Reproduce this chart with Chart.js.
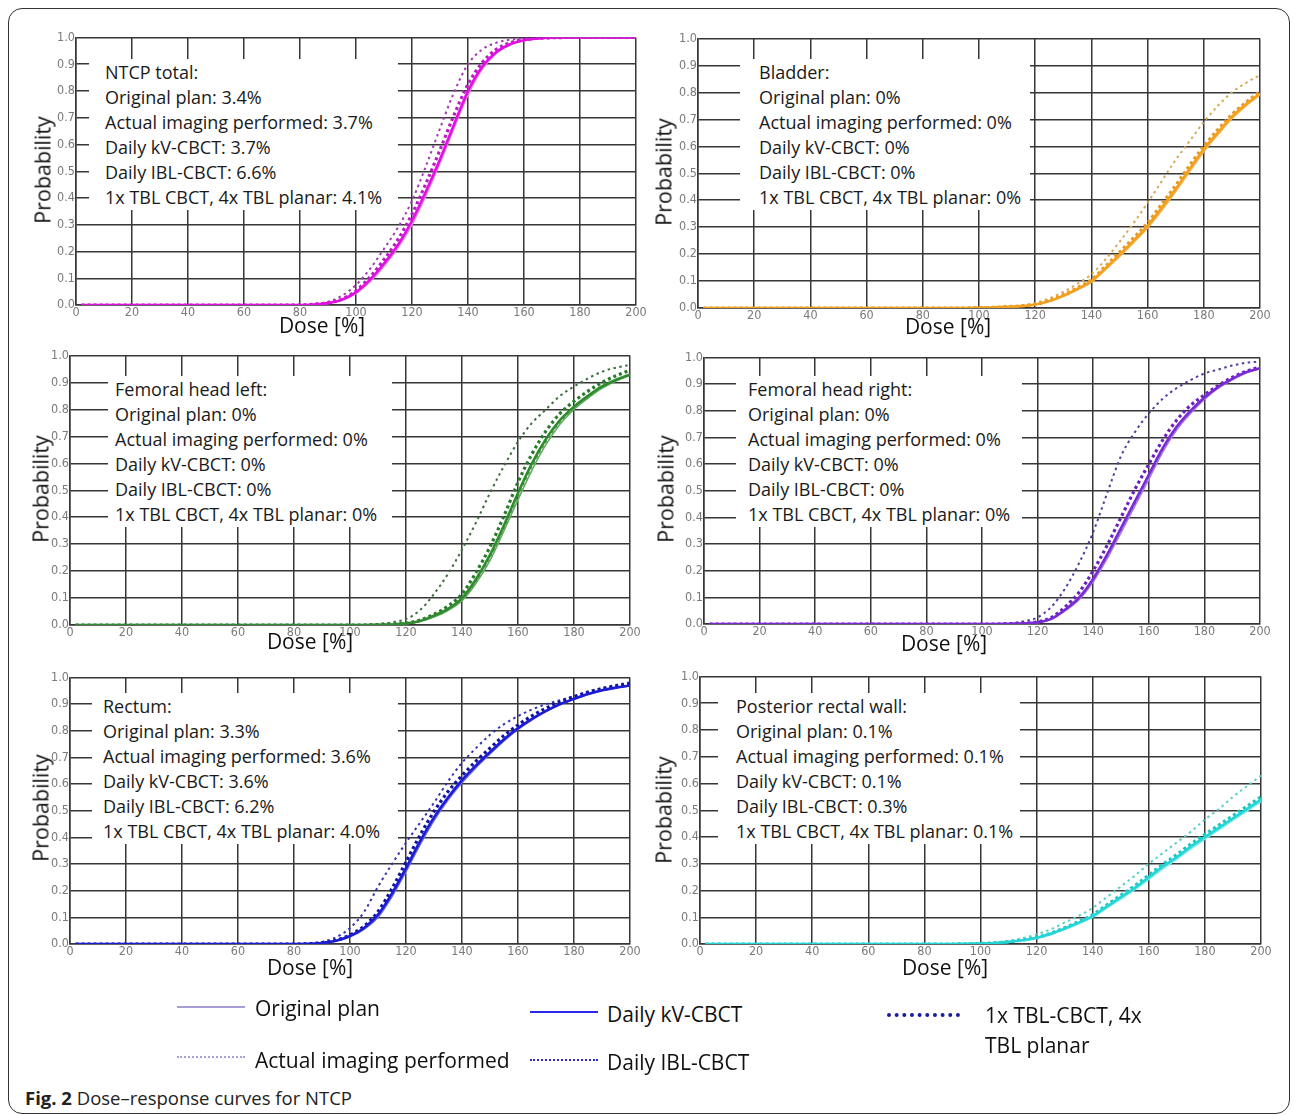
<!DOCTYPE html>
<html><head><meta charset="utf-8">
<script src="https://cdn.jsdelivr.net/npm/chart.js@4.4.1/dist/chart.umd.min.js"></script>
<style>
html,body{margin:0;padding:0;background:#fff;}
body{width:1295px;height:1115px;position:relative;overflow:hidden;font-family:'Open Sans','Noto Sans',sans-serif;color:#1a1a1a;}
#frame{position:absolute;left:8px;top:8px;width:1282px;height:1106px;border:1.5px solid #333;border-radius:14px;box-sizing:border-box;}
canvas{position:absolute;}
.box{position:absolute;background:#fff;font-size:18px;line-height:25px;color:#1a1a1a;white-space:nowrap;box-sizing:border-box;}
.ytitle{position:absolute;font-size:21.5px;color:#111;transform:translate(-50%,-50%) rotate(-90deg);white-space:nowrap;}
.xtitle{position:absolute;font-size:21px;color:#111;transform:translate(-50%,-50%);white-space:nowrap;}
.lg{position:absolute;font-size:21px;color:#111;white-space:nowrap;transform:translateY(-50%);}
.ls{position:absolute;height:0;}
#caption{position:absolute;left:25px;top:1097px;transform:translateY(-50%);font-size:18.5px;color:#222;white-space:nowrap;}
</style>
</head>
<body>
<div id="frame"></div>
<div id="root"></div>
<div class="ls" style="left:177px;top:1006px;width:68px;border-top:2px solid #a99bd6;"></div>
<div class="lg" style="left:255px;top:1008px;">Original plan</div>
<div class="ls" style="left:177px;top:1056px;width:68px;border-top:2px dotted #aaa0da;"></div>
<div class="lg" style="left:255px;top:1060px;">Actual imaging performed</div>
<div class="ls" style="left:530px;top:1011px;width:68px;border-top:2.5px solid #2a2ae6;"></div>
<div class="lg" style="left:607px;top:1014px;">Daily kV-CBCT</div>
<div class="ls" style="left:530px;top:1059px;width:68px;border-top:2.5px dotted #2b2bd0;"></div>
<div class="lg" style="left:607px;top:1062px;">Daily IBL-CBCT</div>
<div class="ls" style="left:887px;top:1013px;width:73px;border-top:4px dotted #1c1c9c;"></div>
<div class="lg" style="left:985px;top:1030px;line-height:30px;transform:translateY(-50%);">1x TBL-CBCT, 4x<br>TBL planar</div>
<div id="caption"><b>Fig. 2</b> Dose–response curves for NTCP</div>
<script>
// ---------- data ----------
const doses = [2,20,40,60,80,85,90,95,100,105,110,115,120,125,130,135,140,145,150,155,160,165,170,175,180,185,190,195,200];
const xTicks = [0,20,40,60,80,100,120,140,160,180,200];
const yTicks = [0,0.1,0.2,0.3,0.4,0.5,0.6,0.7,0.8,0.9,1.0];
const seriesNames = ['Original plan','Actual imaging performed','Daily kV-CBCT','Daily IBL-CBCT','1x TBL CBCT, 4x TBL planar'];
const organNames = ['NTCP total','Bladder','Femoral head left','Femoral head right','Rectum','Posterior rectal wall'];
const pctOriginal = ['3.4%','0%','0%','0%','3.3%','0.1%'];
const pctActual   = ['3.7%','0%','0%','0%','3.6%','0.1%'];
const pctKV       = ['3.7%','0%','0%','0%','3.6%','0.1%'];
const pctIBL      = ['6.6%','0%','0%','0%','6.2%','0.3%'];
const pctTBL      = ['4.1%','0%','0%','0%','4.0%','0.1%'];

const totalOriginal = [0,0,0,0,0,0.002,0.006,0.017,0.043,0.087,0.145,0.215,0.30,0.41,0.53,0.66,0.785,0.88,0.94,0.972,0.988,0.995,0.999,1,1,1,1,1,1];
const totalActual   = [0,0,0,0,0,0.002,0.007,0.019,0.047,0.093,0.153,0.223,0.312,0.422,0.542,0.672,0.797,0.888,0.944,0.974,0.99,0.996,0.999,1,1,1,1,1,1];
const totalKV       = [0,0,0,0,0,0.002,0.007,0.02,0.048,0.095,0.155,0.225,0.315,0.425,0.545,0.675,0.80,0.89,0.945,0.975,0.99,0.996,0.999,1,1,1,1,1,1];
const totalIBL      = [0,0,0,0,0.001,0.004,0.012,0.035,0.075,0.135,0.21,0.29,0.39,0.52,0.66,0.795,0.9,0.955,0.98,0.992,0.997,0.999,1,1,1,1,1,1,1];
const totalTBL      = [0,0,0,0,0,0.003,0.008,0.022,0.053,0.105,0.17,0.245,0.34,0.455,0.58,0.71,0.825,0.905,0.955,0.98,0.992,0.997,0.999,1,1,1,1,1,1];

const bladderOriginal = [0,0,0,0,0,0,0,0,0.001,0.002,0.004,0.007,0.012,0.024,0.043,0.067,0.095,0.142,0.19,0.242,0.297,0.362,0.432,0.507,0.58,0.643,0.702,0.75,0.79];
const bladderActual   = [0,0,0,0,0,0,0,0,0.001,0.002,0.004,0.007,0.013,0.025,0.045,0.07,0.099,0.146,0.196,0.248,0.303,0.37,0.44,0.515,0.588,0.65,0.708,0.755,0.795];
const bladderKV       = [0,0,0,0,0,0,0,0,0.001,0.002,0.004,0.007,0.013,0.026,0.046,0.071,0.10,0.148,0.198,0.25,0.305,0.372,0.442,0.517,0.59,0.652,0.71,0.756,0.796];
const bladderIBL      = [0,0,0,0,0,0,0,0.001,0.002,0.003,0.005,0.009,0.018,0.036,0.06,0.09,0.125,0.18,0.245,0.315,0.39,0.47,0.55,0.62,0.69,0.75,0.80,0.835,0.865];
const bladderTBL      = [0,0,0,0,0,0,0,0,0.001,0.002,0.005,0.008,0.014,0.028,0.049,0.075,0.105,0.155,0.207,0.26,0.316,0.385,0.455,0.53,0.60,0.662,0.718,0.763,0.803];

const femLOriginal = [0,0,0,0,0,0,0,0,0,0,0.001,0.002,0.005,0.013,0.03,0.054,0.09,0.155,0.24,0.35,0.465,0.575,0.67,0.745,0.80,0.842,0.878,0.905,0.926];
const femLActual   = [0,0,0,0,0,0,0,0,0,0,0.001,0.002,0.005,0.014,0.032,0.057,0.095,0.162,0.25,0.36,0.478,0.588,0.68,0.752,0.805,0.846,0.882,0.908,0.928];
const femLKV       = [0,0,0,0,0,0,0,0,0,0,0.001,0.002,0.006,0.015,0.035,0.06,0.10,0.17,0.26,0.37,0.49,0.60,0.69,0.76,0.81,0.85,0.885,0.91,0.93];
const femLIBL      = [0,0,0,0,0,0,0,0,0,0.001,0.004,0.01,0.022,0.055,0.115,0.19,0.28,0.38,0.49,0.59,0.68,0.75,0.80,0.85,0.885,0.915,0.94,0.955,0.965];
const femLTBL      = [0,0,0,0,0,0,0,0,0,0,0.001,0.003,0.007,0.018,0.04,0.07,0.115,0.195,0.29,0.405,0.53,0.635,0.72,0.785,0.83,0.868,0.9,0.925,0.945];

const femROriginal = [0,0,0,0,0,0,0,0,0,0,0.001,0.002,0.005,0.018,0.05,0.092,0.158,0.245,0.343,0.443,0.543,0.645,0.728,0.79,0.843,0.885,0.916,0.942,0.958];
const femRActual   = [0,0,0,0,0,0,0,0,0,0,0.001,0.002,0.006,0.019,0.053,0.097,0.165,0.254,0.353,0.453,0.553,0.653,0.735,0.796,0.847,0.888,0.918,0.944,0.959];
const femRKV       = [0,0,0,0,0,0,0,0,0,0,0.001,0.002,0.006,0.02,0.055,0.10,0.17,0.26,0.36,0.46,0.56,0.66,0.74,0.80,0.85,0.89,0.92,0.945,0.96];
const femRIBL      = [0,0,0,0,0,0,0,0,0,0,0.003,0.01,0.025,0.065,0.135,0.23,0.345,0.49,0.63,0.72,0.79,0.845,0.885,0.915,0.94,0.955,0.97,0.98,0.985];
const femRTBL      = [0,0,0,0,0,0,0,0,0,0,0.001,0.003,0.008,0.025,0.065,0.12,0.2,0.295,0.4,0.505,0.6,0.69,0.765,0.82,0.86,0.895,0.925,0.948,0.965];

const rectumOriginal = [0,0,0,0,0,0.001,0.003,0.011,0.027,0.055,0.1,0.178,0.272,0.372,0.463,0.54,0.605,0.662,0.713,0.762,0.805,0.841,0.872,0.898,0.918,0.936,0.95,0.961,0.969];
const rectumActual   = [0,0,0,0,0,0.001,0.004,0.012,0.029,0.058,0.108,0.187,0.282,0.382,0.472,0.548,0.613,0.668,0.718,0.766,0.809,0.844,0.874,0.899,0.919,0.937,0.951,0.962,0.97];
const rectumKV       = [0,0,0,0,0,0.001,0.004,0.012,0.03,0.06,0.11,0.19,0.285,0.385,0.475,0.55,0.615,0.67,0.72,0.768,0.81,0.845,0.875,0.9,0.92,0.938,0.952,0.962,0.97];
const rectumIBL      = [0,0,0,0,0,0.002,0.008,0.025,0.06,0.12,0.215,0.30,0.38,0.455,0.53,0.61,0.68,0.735,0.785,0.825,0.855,0.88,0.9,0.915,0.93,0.945,0.96,0.972,0.982];
const rectumTBL      = [0,0,0,0,0,0.001,0.005,0.014,0.034,0.067,0.122,0.208,0.308,0.408,0.497,0.572,0.632,0.686,0.735,0.782,0.822,0.856,0.885,0.908,0.928,0.945,0.958,0.968,0.976];

const prwOriginal = [0,0,0,0,0,0,0,0.001,0.002,0.004,0.007,0.013,0.021,0.035,0.054,0.076,0.1,0.134,0.168,0.203,0.242,0.281,0.317,0.356,0.392,0.427,0.462,0.497,0.532];
const prwActual   = [0,0,0,0,0,0,0,0.001,0.002,0.004,0.008,0.014,0.022,0.037,0.057,0.079,0.104,0.138,0.173,0.208,0.248,0.288,0.323,0.363,0.398,0.433,0.468,0.503,0.538];
const prwKV       = [0,0,0,0,0,0,0,0.001,0.002,0.004,0.008,0.014,0.023,0.038,0.058,0.08,0.105,0.14,0.175,0.21,0.25,0.29,0.325,0.365,0.40,0.435,0.47,0.505,0.54];
const prwIBL      = [0,0,0,0,0,0,0,0.001,0.003,0.006,0.012,0.022,0.036,0.055,0.08,0.105,0.135,0.175,0.215,0.255,0.30,0.34,0.38,0.42,0.465,0.505,0.55,0.59,0.63];
const prwTBL      = [0,0,0,0,0,0,0,0.001,0.002,0.004,0.008,0.015,0.025,0.04,0.061,0.084,0.11,0.146,0.182,0.218,0.258,0.298,0.334,0.374,0.41,0.445,0.48,0.515,0.55];

const panelSeries = [
  [totalOriginal,totalActual,totalKV,totalIBL,totalTBL],
  [bladderOriginal,bladderActual,bladderKV,bladderIBL,bladderTBL],
  [femLOriginal,femLActual,femLKV,femLIBL,femLTBL],
  [femROriginal,femRActual,femRKV,femRIBL,femRTBL],
  [rectumOriginal,rectumActual,rectumKV,rectumIBL,rectumTBL],
  [prwOriginal,prwActual,prwKV,prwIBL,prwTBL]
];

// ---------- layout & styles ----------
const plotRects = [ // left, top, right, bottom of plot area
  [76,37,636,305],[698,38,1260,308],
  [70,355,630,625],[704,357,1260,624],
  [70,677,630,944],[700,676,1261,944]
];
const boxRects = [ // left, top, width, height, text padding-left
  [89,59,309,151,16],[740,59,290,151,19],
  [108,376,284,151,7],[736,376,286,151,12],
  [92,693,306,151,11],[718,693,302,151,18]
];
const yTitlePos = [[42,170],[663,172],[40,489],[665,489],[40,808],[663,810]];
const xTitlePos = [[322,325],[948,326],[310,641],[944,643],[310,967],[945,967]];
const palettes = [
  ['#e47ce4','#d264d2','#e010e0','#a23cb4','#b81cc4'],
  ['#f6b24e','#efb562','#f2a11e','#d6a858','#e6961c'],
  ['#62ad62','#5f9f5f','#2e8b2e','#3e6e3e','#277a27'],
  ['#a77ae4','#9264d6','#7a2ad2','#5a3c9c','#6a20c0'],
  ['#6a6ae4','#5656d2','#1c1cd4','#3434b0','#1212a0'],
  ['#7ae8e8','#62dada','#22d6d6','#58d0c8','#1ec2c2']
];
const lineStyles = [
  {w:1.6,dash:[],order:4},
  {w:1.6,dash:[3,3],order:3},
  {w:2.6,dash:[],order:0},
  {w:2.0,dash:[2.5,3.5],order:2},
  {w:3.2,dash:[3,3],order:1}
];
const gridColor = '#363636';
const tickFont = {family:"'Liberation Sans Narrow','DejaVu Sans Condensed','Arial Narrow',sans-serif", size:12.5};
const PADL = 32, PADT = 8, PADR = 14, PADB = 16;

const root = document.getElementById('root');
organNames.forEach((organ, p) => {
  const [l,t,r,b] = plotRects[p];
  const cv = document.createElement('canvas');
  const W = r - l + PADL + PADR, H = b - t + PADT + PADB;
  cv.width = W; cv.height = H;
  cv.style.left = (l - PADL) + 'px'; cv.style.top = (t - PADT) + 'px';
  cv.style.width = W + 'px'; cv.style.height = H + 'px';
  root.appendChild(cv);

  const datasets = panelSeries[p].map((vals, k) => ({
    label: seriesNames[k],
    data: doses.map((d,i) => ({x:d, y:vals[i]})),
    borderColor: palettes[p][k],
    borderWidth: lineStyles[k].w,
    borderDash: lineStyles[k].dash,
    order: lineStyles[k].order,
    pointRadius: 0,
    fill: false,
    cubicInterpolationMode: 'monotone'
  }));

  new Chart(cv, {
    type: 'line',
    data: {datasets},
    options: {
      responsive:false, animation:false, devicePixelRatio:1,
      layout:{padding:{left:0, top:PADT, right:PADR, bottom:0}},
      plugins:{legend:{display:false}, tooltip:{enabled:false}},
      scales:{
        x:{type:'linear', min:0, max:200,
           afterBuildTicks: s => { s.ticks = xTicks.map(v => ({value:v})); },
           ticks:{font:tickFont, color:'#7a7a7a', padding:0, maxRotation:0, autoSkip:false, callback:v => String(v)},
           grid:{color:gridColor, lineWidth:1.5, drawTicks:false},
           border:{color:gridColor, width:1.5},
           afterFit: s => { s.height = PADB; }},
        y:{type:'linear', min:0, max:1,
           afterBuildTicks: s => { s.ticks = yTicks.map(v => ({value:v})); },
           ticks:{font:tickFont, color:'#7a7a7a', padding:1, autoSkip:false, callback:v => Number(v).toFixed(1)},
           grid:{color:gridColor, lineWidth:1.5, drawTicks:false},
           border:{color:gridColor, width:1.5},
           afterFit: s => { s.width = PADL; }}
      }
    }
  });

  const [bl,bt,bw,bh,bp] = boxRects[p];
  const box = document.createElement('div');
  box.className = 'box';
  box.style.left = bl+'px'; box.style.top = bt+'px';
  box.style.width = bw+'px'; box.style.height = bh+'px';
  box.style.paddingLeft = bp+'px'; box.style.paddingTop = '1px';
  const lines = [organ + ':',
    seriesNames[0] + ': ' + pctOriginal[p],
    seriesNames[1] + ': ' + pctActual[p],
    seriesNames[2] + ': ' + pctKV[p],
    seriesNames[3] + ': ' + pctIBL[p],
    seriesNames[4] + ': ' + pctTBL[p]];
  box.innerHTML = lines.map(s => '<div>' + s + '</div>').join('');
  root.appendChild(box);

  const yt = document.createElement('div');
  yt.className = 'ytitle'; yt.textContent = 'Probability';
  yt.style.left = yTitlePos[p][0]+'px'; yt.style.top = yTitlePos[p][1]+'px';
  root.appendChild(yt);
  const xt = document.createElement('div');
  xt.className = 'xtitle'; xt.textContent = 'Dose [%]';
  xt.style.left = xTitlePos[p][0]+'px'; xt.style.top = xTitlePos[p][1]+'px';
  root.appendChild(xt);
});
</script>
</body></html>
